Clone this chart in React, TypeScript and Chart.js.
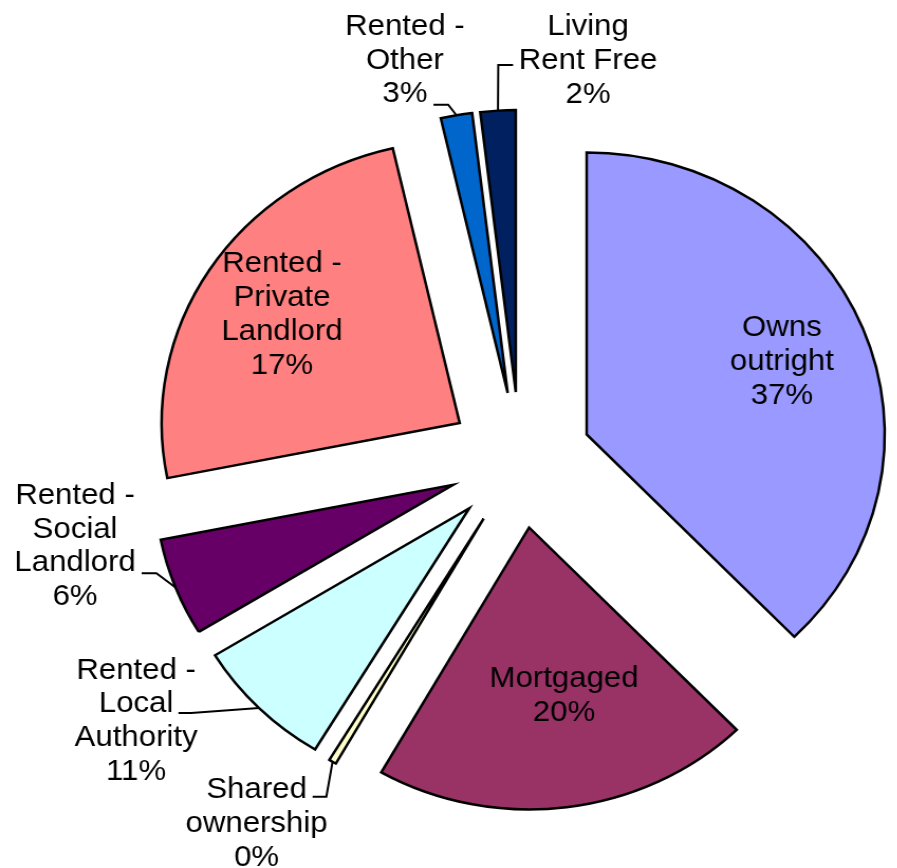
import React, { useEffect, useRef } from 'react';
import { Chart, PieController, ArcElement, registerables } from 'chart.js';

// ---- Data ----
const categories = [
  'Owns outright',
  'Mortgaged',
  'Shared ownership',
  'Rented - Local Authority',
  'Rented - Social Landlord',
  'Rented - Private Landlord',
  'Rented - Other',
  'Living Rent Free',
];
// slice sizes as drawn (share of households, %)
const sliceShares = [37.7, 20.5, 0.4, 7.6, 5.6, 24.5, 1.7, 1.9];
// printed label texts
const labelLines = [
  ['Owns', 'outright'],
  ['Mortgaged'],
  ['Shared', 'ownership'],
  ['Rented -', 'Local', 'Authority'],
  ['Rented -', 'Social', 'Landlord'],
  ['Rented -', 'Private', 'Landlord'],
  ['Rented -', 'Other'],
  ['Living', 'Rent Free'],
];
const percentLabels = ['37%', '20%', '0%', '11%', '6%', '17%', '3%', '2%'];

// ---- Styles / layout ----
const sliceColors = ['#9999FF', '#993366', '#FFFFCC', '#CCFFFF', '#660066', '#FF8080', '#0066CC', '#002060'];
const EXPLODE = 68;
const RADIUS = 282;
const STRETCH_X = 1.057;
const CANVAS_W = 849;
const CANVAS_H = 868;
const FONT = '29.5px "Liberation Sans", Arial, sans-serif';
const LINE_H = 33.7;
// label placement relative to each exploded slice: angle tweak (deg), distance (x radius), leader [dx, dy, elbow]
const LABEL_LAYOUT: { dAngle: number; dist: number; leader?: number[] }[] = [
  { dAngle: 0.6, dist: 0.704 },
  { dAngle: -3.9, dist: 0.609 },
  { dAngle: 4.7, dist: 1.323, leader: [53, -27, 13] },
  { dAngle: 11.1, dist: 1.349, leader: [40, -8, 12] },
  { dAngle: 11.6, dist: 1.287, leader: [63, 27, 14] },
  { dAngle: -0.1, dist: 0.709 },
  { dAngle: -6.4, dist: 1.228, leader: [27, 44, 14] },
  { dAngle: 15.1, dist: 1.199, leader: [-71, 4, -14] },
];

class ExplodedArc extends ArcElement {
  static id = 'explodedArc';
  draw(ctx: CanvasRenderingContext2D) {
    const a: any = this;
    const mid = (a.startAngle + a.endAngle) / 2;
    ctx.save();
    ctx.translate(Math.cos(mid) * EXPLODE, Math.sin(mid) * EXPLODE);
    super.draw(ctx);
    ctx.restore();
  }
}

class ExplodedPieController extends PieController {
  static id = 'explodedPie';
  static defaults = { dataElementType: 'explodedArc' };
}

Chart.register(...registerables, ExplodedArc, ExplodedPieController);

const labelPlugin = {
  id: 'sliceLabels',
  afterDatasetsDraw(chart: any) {
    const ctx: CanvasRenderingContext2D = chart.ctx;
    const meta = chart.getDatasetMeta(0);
    ctx.save();
    ctx.font = FONT;
    ctx.fillStyle = '#000';
    ctx.strokeStyle = '#000';
    ctx.lineWidth = 2;
    ctx.textAlign = 'center';
    ctx.textBaseline = 'middle';
    meta.data.forEach((el: any, i: number) => {
      const { x, y, startAngle, endAngle, outerRadius } = el;
      const mid = (startAngle + endAngle) / 2;
      const ax = x + Math.cos(mid) * EXPLODE;
      const ay = y + Math.sin(mid) * EXPLODE;
      const L = LABEL_LAYOUT[i];
      const a = mid + (L.dAngle * Math.PI) / 180;
      const cx = ax + Math.cos(a) * L.dist * outerRadius;
      const cy = ay + Math.sin(a) * L.dist * outerRadius;
      const lines = [...labelLines[i], percentLabels[i]];
      lines.forEach((t, k) => {
        ctx.fillText(t, cx, cy + (k - (lines.length - 1) / 2) * LINE_H);
      });
      if (L.leader) {
        const [dx, dy, elbow] = L.leader;
        const sx = cx + dx;
        const sy = cy + dy;
        const px = ax + Math.cos(mid) * outerRadius;
        const py = ay + Math.sin(mid) * outerRadius;
        ctx.beginPath();
        ctx.moveTo(sx, sy);
        ctx.lineTo(sx + elbow, sy);
        ctx.lineTo(px, py);
        ctx.stroke();
      }
    });
    ctx.restore();
  },
};

export default function App() {
  const ref = useRef<HTMLCanvasElement | null>(null);
  useEffect(() => {
    if (!ref.current) return;
    const chart = new Chart(ref.current, {
      type: 'explodedPie' as any,
      data: {
        labels: categories,
        datasets: [
          {
            data: sliceShares,
            backgroundColor: sliceColors,
            borderColor: '#000000',
            borderWidth: 2.5,
            borderJoinStyle: 'miter',
            radius: RADIUS,
          } as any,
        ],
      },
      options: {
        responsive: false,
        animation: false,
        events: [],
        layout: { padding: { left: 135, top: 52, right: 0, bottom: 0 } },
        plugins: {
          legend: { display: false },
          tooltip: { enabled: false },
        },
      } as any,
      plugins: [labelPlugin],
    });
    return () => chart.destroy();
  }, []);

  return (
    <div style={{ position: 'fixed', left: 0, top: 0, width: 897, height: 868, overflow: 'hidden', background: '#fff' }}>
      <div
        style={{
          position: 'absolute',
          left: 0,
          top: 0,
          width: CANVAS_W,
          height: CANVAS_H,
          transform: `scaleX(${STRETCH_X})`,
          transformOrigin: '0 0',
        }}
      >
        <canvas ref={ref} width={CANVAS_W} height={CANVAS_H} style={{ display: 'block' }} />
      </div>
    </div>
  );
}
